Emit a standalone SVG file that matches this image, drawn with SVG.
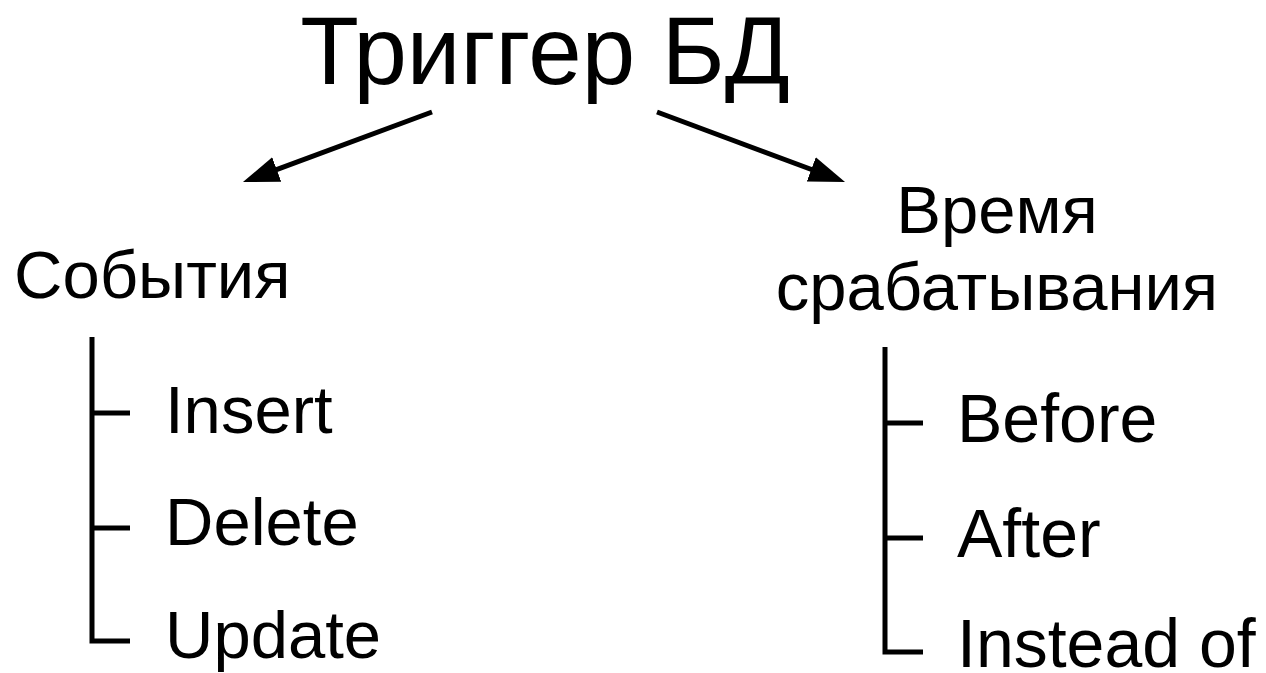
<svg xmlns="http://www.w3.org/2000/svg" width="1266" height="673" viewBox="0 0 1266 673">
<style>
text{font-family:"Liberation Sans",Arial,sans-serif;fill:#000}
.t{font-size:96px}
.s{font-size:67px}
.r{font-size:68px}
.ln{stroke:#000;stroke-width:5;fill:none}
</style>
<defs>
<marker id="ah" markerUnits="userSpaceOnUse" markerWidth="40" markerHeight="30" refX="6" refY="13" orient="auto">
<path d="M0,0 L36,13 L0,26 z" fill="#000"/>
</marker>
</defs>
<rect width="1266" height="673" fill="#fff"/>
<g id="title"><text class="t" x="545" y="84" text-anchor="middle">Триггер БД</text></g>
<g id="events">
<text class="s" x="14" y="298">События</text>
<text class="s" x="165" y="433">Insert</text>
<text class="s" x="165" y="545">Delete</text>
<text class="s" x="165" y="658">Update</text>
</g>
<g id="timing">
<text class="s" x="997" y="233" text-anchor="middle">Время</text>
<text class="s" x="997" y="310" text-anchor="middle">срабатывания</text>
<text class="r" x="957" y="442">Before</text>
<text class="r" x="957" y="557">After</text>
<text class="r" x="957" y="667">Instead of</text>
</g>
<g id="connectors">
<line class="ln" x1="432" y1="112" x2="271.1" y2="171.6" marker-end="url(#ah)"/>
<line class="ln" x1="657" y1="112" x2="816.9" y2="171.5" marker-end="url(#ah)"/>
<path class="ln" d="M92,337 V641 H130 M92,413 H130 M92,528 H130"/>
<path class="ln" d="M885,347 V652 H923 M885,423 H923 M885,538 H923"/>
</g>
</svg>
